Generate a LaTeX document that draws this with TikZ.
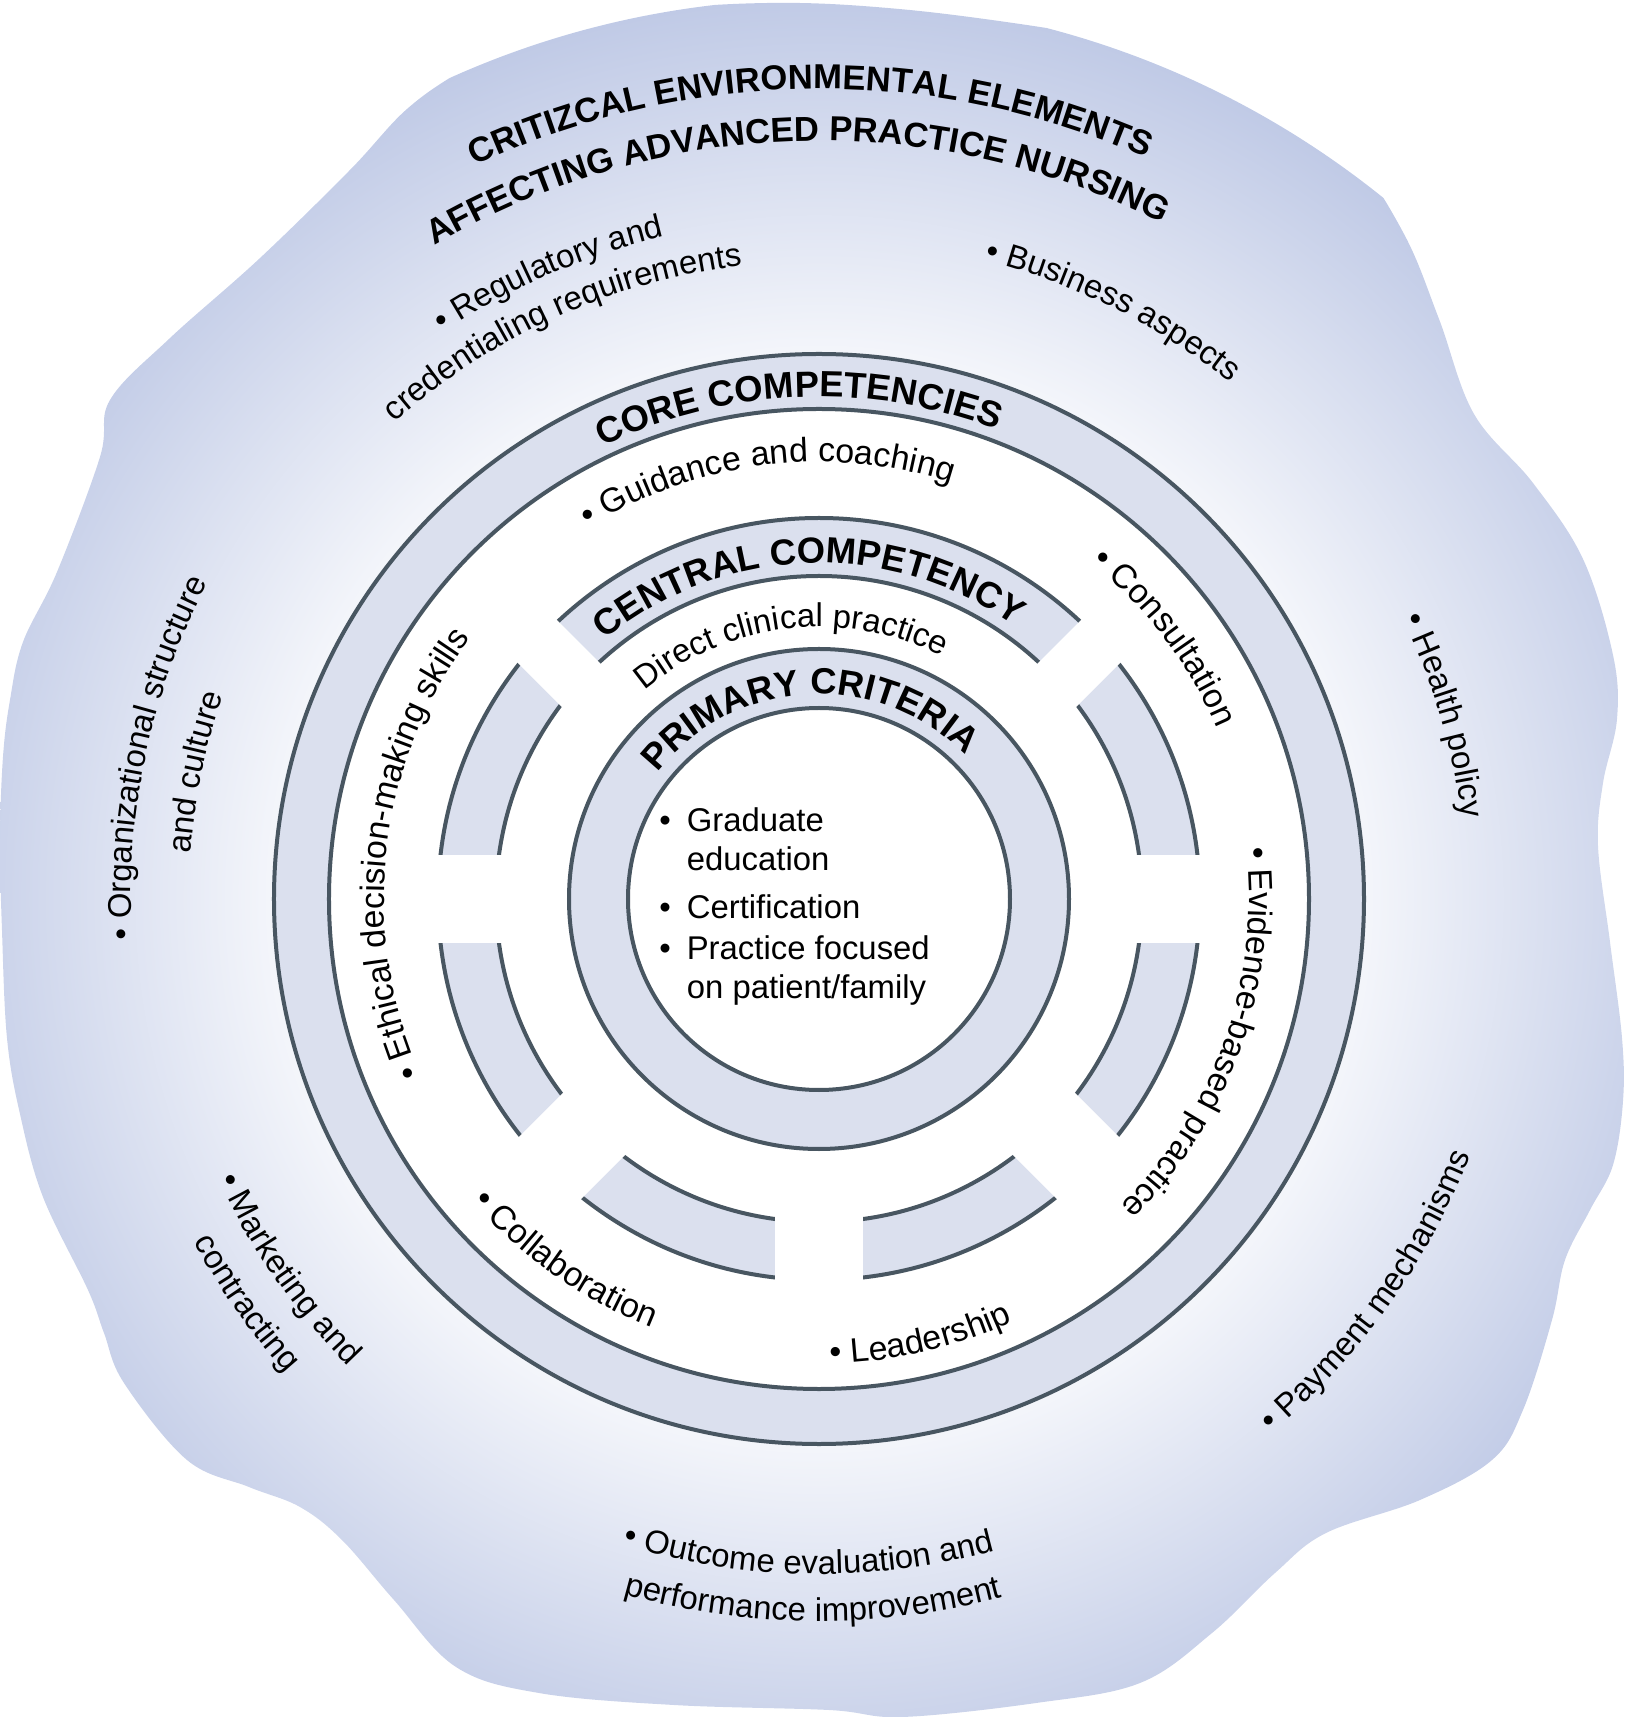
\documentclass[tikz,border=0pt]{standalone}
\usepackage{fontspec}
\setmainfont{Liberation Sans}
\usepackage{tikz}
\usetikzlibrary{decorations.text}

\definecolor{blobblue}{RGB}{192,202,230}
\definecolor{bandfill}{RGB}{219,224,238}
\definecolor{ringline}{RGB}{72,86,97}

\pgfdeclareradialshading{blobshade}{\pgfpoint{0bp}{0bp}}{%
  color(0bp)=(white); color(13bp)=(white); color(25bp)=(blobblue); color(50bp)=(blobblue)}

\def\labelfont{\fontsize{18.7}{22}\selectfont}
\def\corefont{\fontsize{19.3}{23}\selectfont}
\def\headfont{\bfseries\fontsize{20.7}{25}\selectfont}
\def\titlefont{\bfseries\fontsize{19.7}{24}\selectfont}

\tikzset{
    ring/.style={draw=ringline, line width=0.8mm},
    band/.style={fill=bandfill},
    arclabel/.style={decorate, decoration={text along path, text align=center, text={#1}}}
}

% text read clockwise (letters outward) and counter-clockwise (letters inward)
\def\cwlabel#1#2#3{%
    \path[arclabel={#3}] ({#2+60}:#1) arc[start angle={#2+60}, end angle={#2-60}, radius=#1];
}
\def\ccwlabel#1#2#3{%
    \path[arclabel={#3}] ({#2-60}:#1) arc[start angle={#2-60}, end angle={#2+60}, radius=#1];
}

\begin{document}
\begin{tikzpicture}[x=0.2mm, y=0.2mm]
    \useasboundingbox (-819,-818) rectangle (806,899);

    % environment cloud
    \begin{scope}
        \clip plot[smooth cycle, tension=0.6] coordinates {
            (-469,729) (-412,790) (-354,830) (-290,860) (-210,882) (-120,893)
            (-20,896) (80,890) (180,878) (280,862) (370,842) (455,808)
            (530,748) (585,665) (620,580) (655,485) (714,416) (764,340)
            (794,244) (798,180) (784,116) (779,53) (791,-43) (803,-139)
            (804,-202) (794,-266) (771,-311) (746,-361) (733,-421) (704,-511)
            (673,-561) (601,-601) (507,-634) (456,-674) (393,-734) (321,-784)
            (217,-804) (83,-818) (10,-811) (-145,-806) (-280,-794) (-363,-768)
            (-425,-701) (-477,-641) (-519,-608) (-570,-588) (-632,-561) (-695,-484)
            (-715,-434) (-731,-391) (-776,-298) (-799,-215) (-812,-139) (-817,-31)
            (-819,59) (-816,142) (-809,199) (-796,257) (-762,327) (-719,442)
            (-709,499) (-650,560) (-560,640)};
        \shade[shading=blobshade] (0,0) circle (900);
    \end{scope}

    % core competencies band
    \fill[band] (0,0) circle (545);
    \fill[white] (0,0) circle (490);
    \draw[ring] (0,0) circle (545) (0,0) circle (490);

    % central competency band, cut in seven pieces
    \fill[band] (0,0) circle (381);
    \fill[white] (0,0) circle (323);
    \draw[ring] (0,0) circle (381) (0,0) circle (323);
    \foreach \g/\lo/\hi in {0/-44/44, 45/-46/12, 135/-12/46, 180/-44/44,
                            225/-44/44, 270/-44/44, 315/-44/44}
    {
        \fill[white, rotate=\g] (295,\lo) rectangle (405,\hi);
    }

    % primary criteria band
    \fill[band] (0,0) circle (250);
    \fill[white] (0,0) circle (191);
    \draw[ring] (0,0) circle (250) (0,0) circle (191);

    % outer ring of elements
    \cwlabel{810}{90.7}{|\titlefont|CRITIZCAL ENVIRONMENTAL ELEMENTS}
    \cwlabel{758}{91.8}{|\titlefont|AFFECTING ADVANCED PRACTICE NURSING}
    \cwlabel{680}{113.4}{|\labelfont|• Regulatory and}
    \cwlabel{638}{114.3}{|\labelfont|credentialing requirements}
    \cwlabel{660}{63.5}{|\labelfont|• Business aspects}
    \cwlabel{648}{16.4}{|\labelfont|• Health policy}
    \cwlabel{688}{168}{|\labelfont|• Organizational structure}
    \cwlabel{630}{168.5}{|\labelfont|and culture}
    \ccwlabel{663}{214.9}{|\labelfont|• Marketing and}
    \ccwlabel{713}{215.2}{|\labelfont|contracting}
    \ccwlabel{675}{269.1}{|\labelfont|• Outcome evaluation and}
    \ccwlabel{722}{269.5}{|\labelfont|performance improvement}
    \ccwlabel{700}{324.4}{|\labelfont|• Payment mechanisms}

    % core competencies
    \cwlabel{502}{92.4}{|\headfont|CORE COMPETENCIES}
    \cwlabel{437}{97.1}{|\corefont|• Guidance and coaching}
    \cwlabel{433}{37.1}{|\corefont|• Consultation}
    \cwlabel{430}{-19.4}{|\corefont|• Evidence-based practice}
    \ccwlabel{465}{283}{|\corefont|• Leadership}
    \ccwlabel{460}{234.9}{|\corefont|• Collaboration}
    \cwlabel{435}{173.5}{|\corefont|• Ethical decision-making skills}

    % central competency
    \cwlabel{336}{92}{|\headfont|CENTRAL COMPETENCY}
    \cwlabel{272}{96.5}{|\labelfont|Direct clinical practice}

    % primary criteria
    \cwlabel{205}{93.2}{|\headfont|PRIMARY CRITERIA}
    \node[anchor=base west, inner sep=0pt, font=\labelfont] (criteria) at (-160,67.3) {%
        \begin{tabular}[t]{@{}l@{\hspace{3.2mm}}l@{}}
            • & Graduate\\
              & education\\[5.5pt]
            • & Certification\\[1.4pt]
            • & Practice focused\\
              & on patient/family
        \end{tabular}};
\end{tikzpicture}
\end{document}
